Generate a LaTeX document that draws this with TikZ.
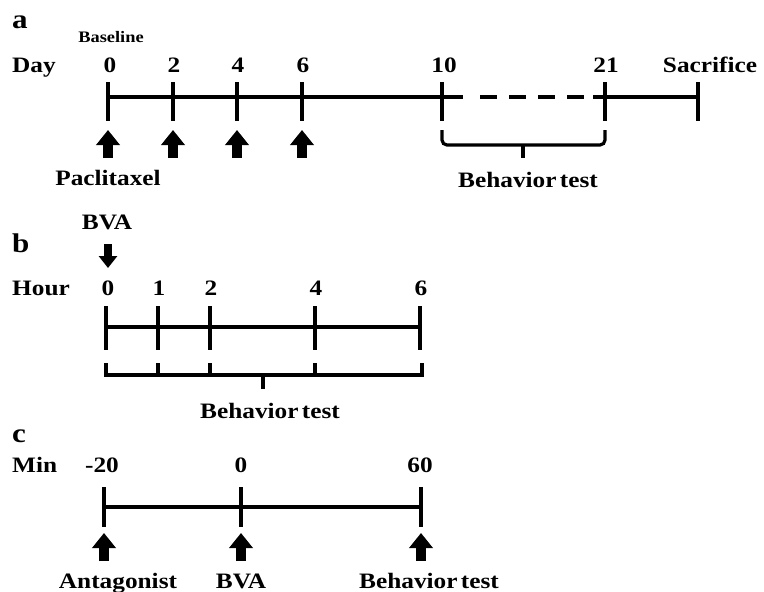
\documentclass[tikz,border=0pt]{standalone}
\usepackage{fontspec}
\setmainfont{Liberation Serif}[FakeStretch=1.15]
\usetikzlibrary{arrows.meta}
\begin{document}
\begin{tikzpicture}[x=1pt,y=-1pt,
  lbl/.style={font=\fontsize{22}{26}\selectfont\bfseries, anchor=base, inner sep=0pt},
  lblw/.style={lbl, anchor=base west},
  small/.style={font=\fontsize{16}{18}\selectfont\bfseries, anchor=base, inner sep=0pt},
  panel/.style={font=\fontsize{27}{30}\selectfont\bfseries, anchor=base west, inner sep=0pt},
  axis/.style={line width=3.2pt},
  tickline/.style={line width=3.2pt},
  blk/.style={line width=10pt, -{Triangle[width=23pt,length=15pt]}},
  blksmall/.style={line width=8pt, -{Triangle[width=18pt,length=12pt]}},
]
\useasboundingbox (0,0) rectangle (764,592);

% ---------- panel a ----------
\node[panel] (pa) at (12,28) {a};
\node[small] (baseline) at (111,42) {Baseline};
\node[lblw] (day) at (12,72) {Day};
\node[lbl] (d0) at (110,72) {0};
\node[lbl] (d2) at (174,72) {2};
\node[lbl] (d4) at (238,72) {4};
\node[lbl] (d6) at (303,72) {6};
\node[lbl] (d10) at (444,72) {10};
\node[lbl] (d21) at (606,72) {21};
\node[lbl] (dsac) at (710,72) {Sacrifice};

\coordinate (a0) at (108,97);
\coordinate (a2) at (173,97);
\coordinate (a4) at (237,97);
\coordinate (a6) at (302,97);
\coordinate (a10) at (442,97);
\coordinate (a21) at (605,97);
\coordinate (asac) at (698,97);
\coordinate (ad1) at (463,97);
\coordinate (ad2) at (480,97);
\coordinate (ad3) at (584,97);
\coordinate (ad4) at (593,97);

\draw[axis] (a0) -- (ad1);
\draw[axis, dash pattern=on 17pt off 12pt] (ad2) -- (ad3);
\draw[axis] (ad4) -- (asac);
\foreach \c in {a0,a2,a4,a6,a10,a21,asac}
  \draw[tickline] ([yshift=15pt]\c) -- ([yshift=-24pt]\c);

\foreach \c in {a0,a2,a4,a6}
  \draw[blk] ([yshift=-61pt]\c) -- ([yshift=-33pt]\c);
\node[lbl] (pac) at (108,185) {Paclitaxel};

\draw[tickline, rounded corners=5pt] (442,130) -- (442,145) -- (605,145) -- (605,130);
\coordinate (bm) at (523,145);
\draw[tickline] (bm) -- ([yshift=-13pt]bm);
\node[lbl] (bta) at (528,187) {Behavior\hspace{0.15em}test};

% ---------- panel b ----------
\node[panel] (pb) at (12,252) {b};
\node[lbl] (bva1) at (107,229) {BVA};
\coordinate (bvaA) at (108,244);
\coordinate (bvaB) at (108,268);
\draw[blksmall] (bvaA) -- (bvaB);
\node[lblw] (hour) at (12,295) {Hour};
\node[lbl] (h0) at (108,295) {0};
\node[lbl] (h1) at (159,295) {1};
\node[lbl] (h2) at (211,295) {2};
\node[lbl] (h4) at (316,295) {4};
\node[lbl] (h6) at (421,295) {6};

\coordinate (b0) at (106,327);
\coordinate (b1) at (158,327);
\coordinate (b2) at (210,327);
\coordinate (b4) at (315,327);
\coordinate (b6) at (420,327);
\draw[axis] (b0) -- (b6);
\foreach \c in {b0,b1,b2,b4,b6}
  \draw[tickline] ([yshift=21pt]\c) -- ([yshift=-23pt]\c);

\draw[tickline] (106,363) -- (106,375) -- (422,375) -- (422,363);
\foreach \x in {158,210,315}
  \draw[tickline] (\x,363) -- (\x,375);
\coordinate (bbm) at (263,375);
\draw[tickline] (bbm) -- ([yshift=-14pt]bbm);
\node[lbl] (btb) at (270,418) {Behavior\hspace{0.15em}test};

% ---------- panel c ----------
\node[panel] (pc) at (12,442) {c};
\node[lblw] (min) at (12,472) {Min};
\node[lbl] (m20) at (102,472) {-20};
\node[lbl] (m0) at (241,472) {0};
\node[lbl] (m60) at (420,472) {60};

\coordinate (c0) at (104,507);
\coordinate (c1) at (241,507);
\coordinate (c2) at (421,507);
\draw[axis] (c0) -- (c2);
\foreach \c in {c0,c1,c2}
  \draw[tickline] ([yshift=20pt]\c) -- ([yshift=-20pt]\c);
\foreach \c in {c0,c1,c2}
  \draw[blk] ([yshift=-54pt]\c) -- ([yshift=-26pt]\c);

\node[lbl] (ant) at (118,588) {Antagonist};
\node[lbl] (bva2) at (241,588) {BVA};
\node[lbl] (btc) at (429,588) {Behavior\hspace{0.15em}test};
\end{tikzpicture}
\end{document}
